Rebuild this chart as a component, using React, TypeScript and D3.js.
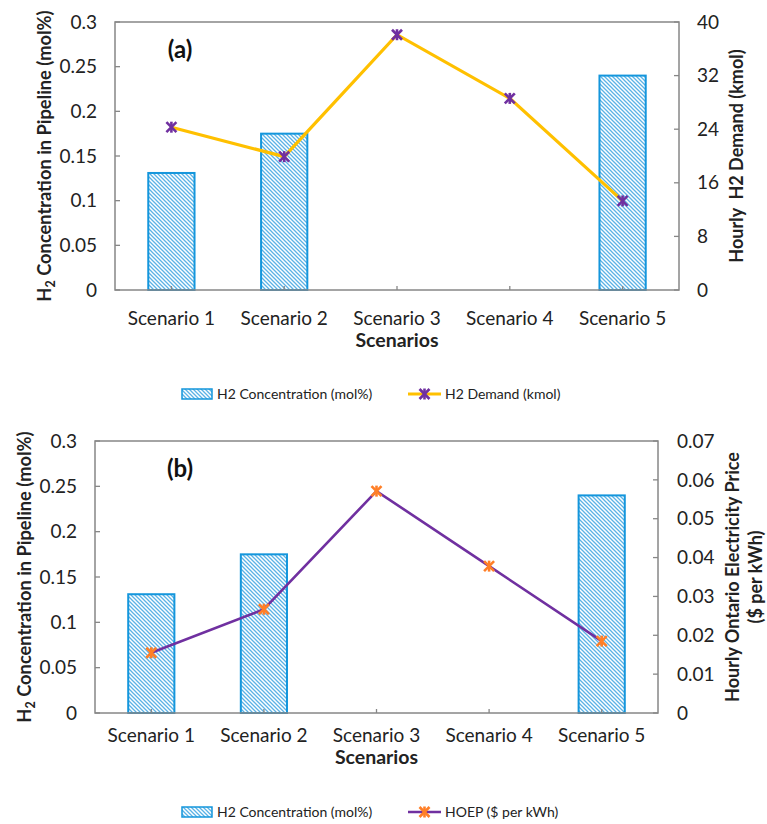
import React from "react";
import * as d3 from "d3";

const categories = ["Scenario 1", "Scenario 2", "Scenario 3", "Scenario 4", "Scenario 5"];
const h2Concentration = [0.131, 0.175, 0, 0, 0.24];
const h2Demand = [24.3, 19.9, 38.1, 28.6, 13.3];
const hoep = [0.0155, 0.0267, 0.0571, 0.0378, 0.0185];

const leftTicks = [0, 0.05, 0.1, 0.15, 0.2, 0.25, 0.3];
const demandTicks = [0, 8, 16, 24, 32, 40];
const hoepTicks = [0, 0.01, 0.02, 0.03, 0.04, 0.05, 0.06, 0.07];

const FONT = "Lato, 'Open Sans', sans-serif";
const AXIS = "#878787";
const BAR_STROKE = "#1496dc";
const HATCH = "#5bb2e6";

function Marker({ x, y, color }: { x: number; y: number; color: string }) {
  const s = 5;
  return (
    <g stroke={color} strokeWidth={2.6} strokeLinecap="butt">
      <line x1={x - s} y1={y - s} x2={x + s} y2={y + s} />
      <line x1={x - s} y1={y + s} x2={x + s} y2={y - s} />
      <line x1={x} y1={y - s - 0.5} x2={x} y2={y + s + 0.5} />
    </g>
  );
}

type PanelProps = {
  left: number; right: number; top: number; bottom: number;
  lineValues: number[]; rightMax: number; rightTicks: number[];
  rightFmt: (v: number) => string;
  lineColor: string; markerColor: string; lineWidth: number;
  tag: string; rightTitle: string[]; rightTitleX: number[];
  rightTickX: number; leftTitleX: number;
  labelOff: number; titleOff: number;
  legendY: number; lineLegend: string;
};

function Panel(p: PanelProps) {
  const x = d3.scaleBand<string>().domain(categories).range([p.left, p.right]).paddingInner(0.59).paddingOuter(0.295);
  const y = d3.scaleLinear().domain([0, 0.3]).range([p.bottom, p.top]);
  const y2 = d3.scaleLinear().domain([0, p.rightMax]).range([p.bottom, p.top]);
  const cx = (c: string) => (x(c) as number) + x.bandwidth() / 2;
  const line = d3.line<number>().x((_, i) => cx(categories[i])).y((d) => y2(d));
  const midY = (p.top + p.bottom) / 2;
  const midX = (p.left + p.right) / 2;
  return (
    <g>
      {h2Concentration.map((v, i) =>
        v > 0 ? (
          <rect key={i} x={x(categories[i])} y={y(v)} width={x.bandwidth()} height={p.bottom - y(v)}
            fill="url(#hatch)" stroke={BAR_STROKE} strokeWidth={2} />
        ) : null
      )}
      <rect x={p.left} y={p.top} width={p.right - p.left} height={p.bottom - p.top} fill="none" stroke={AXIS} strokeWidth={1.5} />
      {leftTicks.map((t) => (
        <g key={"l" + t}>
          <line x1={p.left} x2={p.left + 5} y1={y(t)} y2={y(t)} stroke={AXIS} strokeWidth={1.3} />
          <text x={p.left - 18} y={y(t)} dy="0.35em" textAnchor="end" fontSize={19} fontFamily={FONT} fill="#222">{String(t)}</text>
        </g>
      ))}
      {p.rightTicks.map((t) => (
        <g key={"r" + t}>
          <line x1={p.right - 5} x2={p.right} y1={y2(t)} y2={y2(t)} stroke={AXIS} strokeWidth={1.3} />
          <text x={p.rightTickX} y={y2(t)} dy="0.35em" textAnchor="start" fontSize={19} fontFamily={FONT} fill="#222">{p.rightFmt(t)}</text>
        </g>
      ))}
      {categories.map((c) => (
        <g key={c}>
          <line x1={cx(c)} x2={cx(c)} y1={p.bottom} y2={p.bottom - 4} stroke={AXIS} strokeWidth={1.3} />
          <text x={cx(c)} y={p.bottom + p.labelOff} textAnchor="middle" fontSize={19} fontFamily={FONT} fill="#222">{c}</text>
        </g>
      ))}
      <text x={midX} y={p.bottom + p.titleOff} textAnchor="middle" fontSize={19.5} fontWeight="bold" fontFamily={FONT} fill="#222">Scenarios</text>
      <text transform={`translate(${p.leftTitleX},${midY}) rotate(-90)`} textAnchor="middle" fontSize={18.3} fontWeight="bold" fontFamily={FONT} fill="#222">
        <tspan>H</tspan><tspan fontSize={12.5} dy="4">2</tspan><tspan dy="-4"> Concentration in Pipeline (mol%)</tspan>
      </text>
      {p.rightTitle.map((t, i) => (
        <text key={t} transform={`translate(${p.rightTitleX[i]},${midY}) rotate(-90)`} textAnchor="middle" fontSize={18} fontWeight="bold" fontFamily={FONT} fill="#222" style={{ whiteSpace: "pre" }}>{t}</text>
      ))}
      <path d={line(p.lineValues) || ""} fill="none" stroke={p.lineColor} strokeWidth={p.lineWidth} />
      {p.lineValues.map((v, i) => (
        <Marker key={i} x={cx(categories[i])} y={y2(v)} color={p.markerColor} />
      ))}
      <text x={180} y={p.top + 36} textAnchor="middle" fontSize={24} fontWeight="bold" fontFamily={FONT} fill="#111">{p.tag}</text>
      <rect x={182} y={p.legendY - 5} width={30} height={10} fill="url(#hatch)" stroke={BAR_STROKE} strokeWidth={1.5} />
      <text x={217} y={p.legendY} dy="0.35em" fontSize={14} fontFamily={FONT} fill="#222">H2 Concentration (mol%)</text>
      <line x1={408} x2={441} y1={p.legendY} y2={p.legendY} stroke={p.lineColor} strokeWidth={p.lineWidth} />
      <Marker x={424.5} y={p.legendY} color={p.markerColor} />
      <text x={445} y={p.legendY} dy="0.35em" fontSize={14} fontFamily={FONT} fill="#222">{p.lineLegend}</text>
    </g>
  );
}

export default function App() {
  return (
    <svg width={767} height={824} style={{ position: "absolute", left: 0, top: 0, background: "#fff" }}>
      <defs>
        <pattern id="hatch" patternUnits="userSpaceOnUse" width={4} height={4}>
          <rect width={4} height={4} fill="#fff" />
          <path d="M-1,-1 L5,5 M-1,3 L1,5 M3,-1 L5,1" stroke={HATCH} strokeWidth={1.3} />
        </pattern>
      </defs>
      <rect width={767} height={824} fill="#fff" />
      <Panel left={115} right={679} top={22} bottom={290}
        lineValues={h2Demand} rightMax={40} rightTicks={demandTicks} rightFmt={(v) => String(v)}
        lineColor="#ffc000" markerColor="#7030a0" lineWidth={3.2}
        tag="(a)" rightTitle={["Hourly  H2 Demand (kmol)"]} rightTitleX={[743]} rightTickX={697}
        leftTitleX={51} labelOff={35} titleOff={57}
        legendY={394} lineLegend="H2 Demand (kmol)" />
      <Panel left={95} right={658} top={441} bottom={713}
        lineValues={hoep} rightMax={0.07} rightTicks={hoepTicks} rightFmt={(v) => d3.format(".2~f")(v)}
        lineColor="#7030a0" markerColor="#ff7f27" lineWidth={2.6}
        tag="(b)" rightTitle={["Hourly Ontario Electricity Price", "($ per kWh)"]} rightTitleX={[739, 762]} rightTickX={677}
        leftTitleX={31} labelOff={29} titleOff={51}
        legendY={812} lineLegend="HOEP ($ per kWh)" />
    </svg>
  );
}
